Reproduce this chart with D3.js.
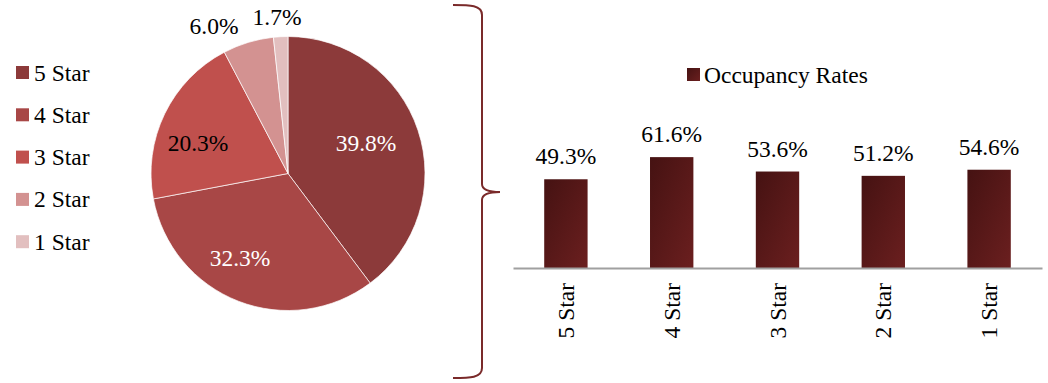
<!DOCTYPE html>
<html><head><meta charset="utf-8">
<script src="https://cdn.jsdelivr.net/npm/d3@7"></script>
<style>body{margin:0;background:#fff}svg{display:block}text{font-family:"Liberation Serif","Times New Roman",serif}</style>
</head><body>
<svg id="c" width="1048" height="383"></svg>
<script>
const categories = ["5 Star","4 Star","3 Star","2 Star","1 Star"];
const shareValues = [39.8, 32.3, 20.3, 6.0, 1.7];
const occupancyValues = [49.3, 61.6, 53.6, 51.2, 54.6];
const pieColors = ["#8c3a3a","#a84746","#c0504d","#d39291","#e2bfbf"];
const seriesName = "Occupancy Rates";

const FS = 23.5;
const svg = d3.select("#c");

const defs = svg.append("defs");
const grad = defs.append("linearGradient").attr("id","bg").attr("x1","0").attr("y1","0").attr("x2","1").attr("y2","1");
grad.append("stop").attr("offset","0").attr("stop-color","#451212");
grad.append("stop").attr("offset","1").attr("stop-color","#6b1f1f");

// Pie
const cx = 288, cy = 173.5, R = 137;
const pie = d3.pie().sort(null).value(d=>d);
const arcs = pie(shareValues);
const arc = d3.arc().innerRadius(0).outerRadius(R);
const pg = svg.append("g").attr("transform",`translate(${cx},${cy})`);
pg.selectAll("path").data(arcs).join("path")
  .attr("d",arc).attr("fill",(d,i)=>pieColors[i])
  .attr("stroke","#fff").attr("stroke-width",0.7);

// label placement offsets from pie centre (layout only)
const labelOffsets = [[78,-31],[-48,84],[-90,-31],[-74,-148],[-11,-157]];
const labelColors = ["#fff","#fff","#000","#000","#000"];
pg.selectAll("text.pl").data(arcs).join("text")
  .attr("class","pl")
  .attr("x",(d,i)=>labelOffsets[i][0]).attr("y",(d,i)=>labelOffsets[i][1])
  .attr("text-anchor","middle").attr("dominant-baseline","central")
  .attr("font-size",FS).attr("fill",(d,i)=>labelColors[i])
  .text(d=>d.data.toFixed(1)+"%");

// Pie legend
const lg = svg.append("g");
categories.forEach((c,i)=>{
  const y = 72.5 + i*42.3;
  lg.append("rect").attr("x",16).attr("y",y-6.5).attr("width",13).attr("height",13).attr("fill",pieColors[i]);
  lg.append("text").attr("x",34).attr("y",y).attr("dominant-baseline","central").attr("font-size",FS).attr("fill","#000").text(c);
});

// Brace
const btop = 5, bbot = 378, bmid = 192;
const brace = `M453,${btop} C470,${btop} 482,${btop} 482,${btop+10} L482,${bmid-8} C482,${bmid-2} 490,${bmid} 500,${bmid} C490,${bmid} 482,${bmid+2} 482,${bmid+8} L482,${bbot-10} C482,${bbot} 470,${bbot} 453,${bbot}`;
svg.append("path").attr("d",brace).attr("fill","none").attr("stroke","#7a2a2a").attr("stroke-width",2);

// Bar chart
const x = d3.scaleBand().domain(categories).range([513,1042]);
const y = d3.scaleLinear().domain([0,70]).range([268,142]);
const bw = x.bandwidth()*0.41;
const bg = svg.append("g");
bg.selectAll("rect").data(occupancyValues).join("rect")
  .attr("x",(d,i)=>x(categories[i])+x.bandwidth()/2-bw/2)
  .attr("y",d=>y(d)).attr("width",bw).attr("height",d=>y(0)-y(d))
  .attr("fill","url(#bg)");
bg.selectAll("text.v").data(occupancyValues).join("text").attr("class","v")
  .attr("x",(d,i)=>x(categories[i])+x.bandwidth()/2)
  .attr("y",d=>y(d)-15).attr("text-anchor","middle").attr("font-size",FS).attr("fill","#000")
  .text(d=>d.toFixed(1)+"%");

const xAxis = svg.append("g").attr("transform",`translate(0,${y(0)})`)
  .call(d3.axisBottom(x).tickSize(0).tickPadding(0));
xAxis.attr("font-family",null).attr("font-size",null);
xAxis.select(".domain").attr("stroke","#a0a0a0").attr("stroke-width",2);
xAxis.selectAll("text").attr("font-size",FS).attr("fill","#000")
  .attr("text-anchor","end").attr("dy",null).attr("dominant-baseline","central")
  .attr("transform","translate(0,15) rotate(-90)");

// Bar legend
svg.append("rect").attr("x",687).attr("y",68).attr("width",13).attr("height",13).attr("fill","url(#bg)");
svg.append("text").attr("x",704).attr("y",75).attr("dominant-baseline","central").attr("font-size",FS).attr("fill","#000").text(seriesName);
</script>
</body></html>
